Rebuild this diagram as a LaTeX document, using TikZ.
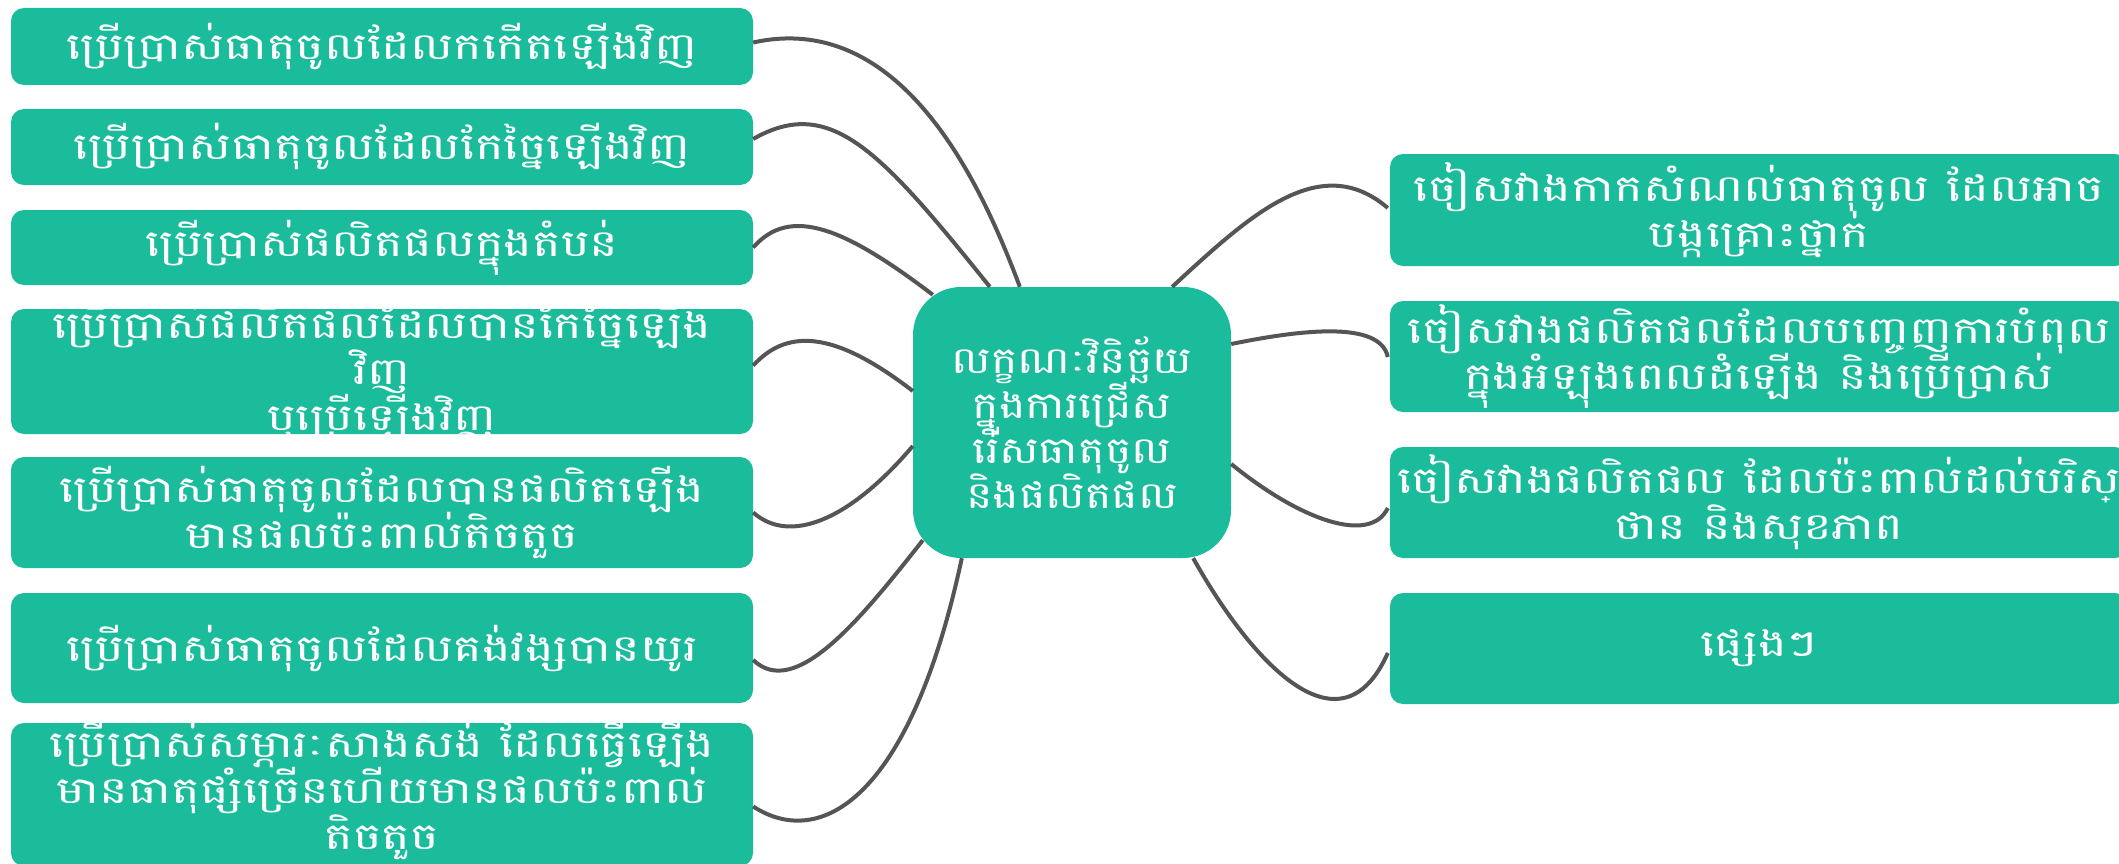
\documentclass[tikz,border=0pt]{standalone}
\usepackage{fontspec}
\newfontfamily\khmerside[Script=Khmer, FakeStretch=1.3]{Battambang}
\newfontfamily\khmermid[Script=Khmer, FakeStretch=1.2]{Battambang}
\usetikzlibrary{calc}
\definecolor{tealbox}{HTML}{1ABC9C}
\definecolor{linkgrey}{HTML}{555555}
\newcommand{\sidefont}{\khmerside\fontsize{37}{46}\selectfont\lineskiplimit=-1000pt\relax}
\newcommand{\midfont}{\khmermid\fontsize{37}{45}\selectfont\lineskiplimit=-1000pt\relax}
\tikzset{
  box/.style={fill=tealbox, draw=none, rounded corners=13pt, inner sep=0pt,
    text=white, align=center, font=\sidefont},
  boxtext/.style={inner sep=0pt, text=white, align=center, font=\sidefont},
  centerbox/.style={box, rounded corners=48pt, font=\midfont},
  link/.style={draw=linkgrey, line width=4pt}
}
\begin{document}
\begin{tikzpicture}[x=1pt, y=-1pt]
\useasboundingbox (0,0) rectangle (2119,864);
% left boxes
\node[box, minimum width=742pt, minimum height=77pt] (L1) at (382,46.5) {ប្រើប្រាស់ធាតុចូលដែលកកើតឡើងវិញ};
\node[box, minimum width=742pt, minimum height=76pt] (L2) at (382,147) {ប្រើប្រាស់ធាតុចូលដែលកែច្នៃឡើងវិញ};
\node[box, minimum width=742pt, minimum height=75pt] (L3) at (382,247.5) {ប្រើប្រាស់ផលិតផលក្នុងតំបន់};
\node[box, minimum width=742pt, minimum height=125pt] (L4) at (382,371.5) {};
\begin{scope}
  \clip[rounded corners=13pt] (L4.north west) rectangle (L4.south east);
  \node[boxtext] (L4t) at (L4.center) {ប្រើប្រាស់ផលិតផលដែលបានកែច្នៃឡើង\\វិញ\\ឬប្រើឡើងវិញ};
\end{scope}
\node[box, minimum width=742pt, minimum height=111pt] (L5) at (382,512.5) {ប្រើប្រាស់ធាតុចូលដែលបានផលិតឡើង\\មានផលប៉ះពាល់តិចតួច};
\node[box, minimum width=742pt, minimum height=110pt] (L6) at (382,648) {ប្រើប្រាស់ធាតុចូលដែលគង់វង្សបានយូរ};
\node[box, minimum width=742pt, minimum height=143pt] (L7) at (382,794.5) {};
\node[boxtext] (L7t) at (382,790) {ប្រើប្រាស់សម្ភារៈសាងសង់ ដែលធ្វើឡើង\\មានធាតុផ្សំច្រើនហើយមានផលប៉ះពាល់\\តិចតួច};
% centre
\node[centerbox, minimum width=318pt, minimum height=271pt] (C) at (1072,422.5) {លក្ខណៈវិនិច្ឆ័យ\\ក្នុងការជ្រើស\\រើសធាតុចូល\\និងផលិតផល};
% right boxes
\node[box, minimum width=738pt, minimum height=112pt] (R1) at (1759,210) {ចៀសវាងកាកសំណល់ធាតុចូល ដែលអាច\\បង្កគ្រោះថ្នាក់};
\node[box, minimum width=738pt, minimum height=111pt] (R2) at (1759,356.5) {ចៀសវាងផលិតផលដែលបញ្ចេញការបំពុល\\ក្នុងអំឡុងពេលដំឡើង និងប្រើប្រាស់};
\node[box, minimum width=738pt, minimum height=111pt] (R3) at (1759,502.5) {ចៀសវាងផលិតផល ដែលប៉ះពាល់ដល់បរិស្\\ថាន និងសុខភាព};
\node[box, minimum width=738pt, minimum height=111pt] (R4) at (1759,648.5) {ផ្សេងៗ};
% connector end points
\coordinate (c1) at ($(C.north west)+(107,0)$);
\coordinate (c2) at ($(C.north west)+(77,0)$);
\coordinate (c3) at ($(C.north west)+(20,8)$);
\coordinate (c4) at ($(C.west)+(0,-31.5)$);
\coordinate (c5) at ($(C.west)+(0,23.5)$);
\coordinate (c6) at ($(C.south west)+(10,-18)$);
\coordinate (c7) at ($(C.south west)+(49,0)$);
\coordinate (d1) at ($(C.north east)+(-59,0)$);
\coordinate (d2) at ($(C.east)+(0,-78.5)$);
\coordinate (d3) at ($(C.east)+(0,41.5)$);
\coordinate (d4) at ($(C.south east)+(-38,0)$);
% connectors left
\draw[link] ($(L1.east)+(0,-4)$) .. controls (900,10) and (980,180) .. (c1);
\draw[link] ($(L2.east)+(0,-8)$) .. controls (830,95) and (880,150) .. (c2);
\draw[link] (L3.east) .. controls (790,205) and (845,228) .. (c3);
\draw[link] ($(L4.east)+(0,-6)$) .. controls (790,325) and (840,335) .. (c4);
\draw[link] (L5.east) .. controls (790,545) and (850,520) .. (c5);
\draw[link] ($(L6.east)+(0,12)$) .. controls (795,700) and (860,620) .. (c6);
\draw[link] ($(L7.east)+(0,12)$) .. controls (820,850) and (910,800) .. (c7);
% connectors right
\draw[link] (d1) .. controls (1250,215) and (1320,150) .. ($(R1.west)+(-2,-2)$);
\draw[link] (d2) .. controls (1300,330) and (1380,320) .. ($(R2.west)+(-2,0.5)$);
\draw[link] (d3) .. controls (1300,520) and (1370,545) .. ($(R3.west)+(-2,5.5)$);
\draw[link] (d4) .. controls (1250,660) and (1340,760) .. ($(R4.west)+(-2,4.5)$);
\end{tikzpicture}
\end{document}
